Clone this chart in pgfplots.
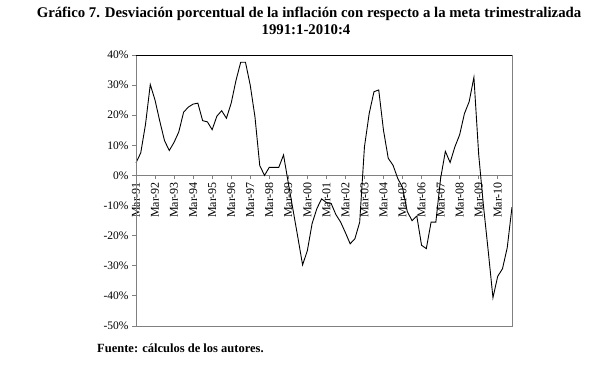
\documentclass[border=0pt]{standalone}
\usepackage{pgfplots}
\pgfplotsset{compat=1.18}
\usepackage{fontspec}
\setmainfont{Liberation Serif}
\begin{document}
\begin{tikzpicture}
\path[use as bounding box] (0pt,0pt) rectangle (605pt,366pt);
\begin{axis}[
  at={(136pt,40pt)}, anchor=south west,
  scale only axis, width=376pt, height=271pt,
  xmin=0, xmax=79, ymin=-50, ymax=40,
  axis x line=middle, axis y line=left,
  axis line style={-, draw=gray, line width=0.8pt},
  hide obscured x ticks=false, hide obscured y ticks=false,
  xtick={0,4,...,76},
  xticklabels={Mar-91,Mar-92,Mar-93,Mar-94,Mar-95,Mar-96,Mar-97,Mar-98,Mar-99,Mar-00,Mar-01,Mar-02,Mar-03,Mar-04,Mar-05,Mar-06,Mar-07,Mar-08,Mar-09,Mar-10},
  xticklabel style={rotate=90, anchor=east, font=\fontsize{12}{13}\selectfont, inner sep=2.5pt},
  ytick={-50,-40,...,40},
  yticklabels={-50\%,-40\%,-30\%,-20\%,-10\%,0\%,10\%,20\%,30\%,40\%},
  yticklabel style={font=\fontsize{11.5}{12}\selectfont},
  tick align=outside, major tick length=4pt,
  tick style={gray, line width=0.8pt},
  clip=false,
]
\addplot[black, line width=0.9pt] table {
x y
0 4.2
1 7.5
2 17
3 30.2
4 25
5 18
6 11.5
7 8.3
8 11
9 14.5
10 21
11 22.7
12 23.7
13 24
14 18.2
15 17.8
16 15.2
17 19.7
18 21.5
19 19
20 24
21 31.5
22 37.6
23 37.6
24 30
25 19.4
26 3.3
27 0
28 2.7
29 2.7
30 2.7
31 6.8
32 -2.5
33 -11.5
34 -20.5
35 -29.7
36 -25
37 -16
38 -11
39 -7.8
40 -9
41 -9.3
42 -13
43 -15.5
44 -19
45 -22.7
46 -21
47 -15.5
48 9.5
49 20.6
50 27.8
51 28.4
52 15
53 5.7
54 3.4
55 -1
56 -4
57 -12
58 -15
59 -13.5
60 -23.2
61 -24.3
62 -15.5
63 -15.5
64 -1
65 8
66 4.3
67 9.5
68 13.5
69 20.5
70 24.5
71 32.6
72 7
73 -10
74 -25
75 -40.6
76 -33.5
77 -31
78 -24
79 -10.5
};
\draw[gray, line width=0.8pt] (rel axis cs:0,0) rectangle (rel axis cs:1,1);
\draw[black, line width=0.9pt] (rel axis cs:0,1) -- (rel axis cs:1,1);
\end{axis}
\node[anchor=base, inner sep=0pt, font=\bfseries\fontsize{14.8}{16}\selectfont] at (309pt,348pt) {Gráfico 7. Desviación porcentual de la inflación con respecto a la meta trimestralizada};
\node[anchor=base, inner sep=0pt, font=\bfseries\fontsize{14.8}{16}\selectfont] at (306pt,331pt) {1991:1-2010:4};
\node[anchor=base west, inner sep=0pt, font=\bfseries\fontsize{12.5}{13}\selectfont] at (97pt,13pt) {Fuente: cálculos de los autores.};
\end{tikzpicture}
\end{document}
